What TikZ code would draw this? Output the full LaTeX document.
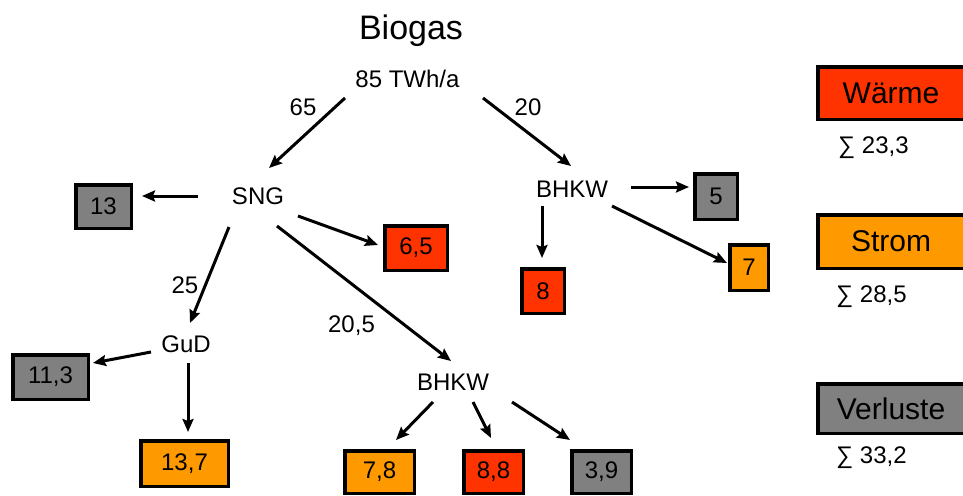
\documentclass[tikz,border=0pt]{standalone}
\usepackage{fontspec}
\setmainfont{Liberation Sans}
\usetikzlibrary{arrows.meta,calc}

\definecolor{waerme}{HTML}{FF3300}
\definecolor{strom}{HTML}{FF9900}
\definecolor{verlust}{HTML}{808080}

\tikzset{
  lbl/.style={font=\fontsize{24}{28}\selectfont, anchor=base, inner sep=0pt},
  flow/.style={line width=3pt, -{Stealth[length=13pt,width=11pt,inset=2pt]}},
  valbox/.style={draw=black, line width=3.5pt, inner sep=0pt,
    font=\fontsize{24}{28}\selectfont},
  legbox/.style={draw=black, line width=3.5pt, inner sep=0pt,
    minimum width=146.5pt, font=\fontsize{30}{34}\selectfont},
  sumlbl/.style={font=\fontsize{24}{28}\selectfont, anchor=base west, inner sep=0pt},
}

\begin{document}
\begin{tikzpicture}[x=1pt,y=-1pt]
\useasboundingbox (0,0) rectangle (963,495);
\clip (0,0) rectangle (963,495);

% title and source
\node[lbl, font=\fontsize{34}{40}\selectfont] (title) at (411,40) {Biogas};
\node[lbl] (top) at (407.5,87) {85 TWh/a};

% conversion stages
\node[lbl] (sng) at (258,204) {SNG};
\node[lbl] (bhkwT) at (572,197) {BHKW};
\node[lbl] (gud) at (186,352) {GuD};
\node[lbl] (bhkwB) at (453,390) {BHKW};

% flow amounts
\node[lbl] (f65) at (303,115) {65};
\node[lbl] (f20) at (528,115) {20};
\node[lbl] (f25) at (185,293) {25};
\node[lbl] (f205) at (351.5,332) {20,5};

% outputs
\node[valbox, fill=verlust, minimum width=55.5pt, minimum height=43.5pt] (b13) at (103.5,206.5) {13};
\node[valbox, fill=waerme,  minimum width=62.5pt, minimum height=44.5pt] (b65) at (416,248) {6,5};
\node[valbox, fill=verlust, minimum width=42.5pt, minimum height=45.5pt] (b5) at (716,196.5) {5};
\node[valbox, fill=strom,   minimum width=38.5pt, minimum height=45.5pt] (b7) at (749,267.5) {7};
\node[valbox, fill=waerme,  minimum width=42.5pt, minimum height=44.5pt] (b8) at (543,291) {8};
\node[valbox, fill=verlust, minimum width=75.5pt, minimum height=44.5pt] (b113) at (50.5,377) {11,3};
\node[valbox, fill=strom,   minimum width=87.5pt, minimum height=45.5pt] (b137) at (184.5,463.5) {13,7};
\node[valbox, fill=strom,   minimum width=69.5pt, minimum height=42.5pt] (b78) at (379.5,472) {7,8};
\node[valbox, fill=waerme,  minimum width=59.5pt, minimum height=42.5pt] (b88) at (493.5,472) {8,8};
\node[valbox, fill=verlust, minimum width=59.5pt, minimum height=42.5pt] (b39) at (601.5,472) {3,9};

% flows
\draw[flow] ($(top.base)+(-62.5,11)$) -- ($(sng.base)+(11,-36)$);
\draw[flow] ($(top.base)+(75.5,11)$) -- ($(bhkwT.base)+(-1,-31)$);
\draw[flow] ($(sng.base)+(-60,-8)$) -- ($(b13)+(38.5,-10.5)$);
\draw[flow] ($(sng.base)+(40,12)$) -- ($(b65)+(-38,-3)$);
\draw[flow] ($(sng.base)+(-29,23)$) -- ($(gud.base)+(4,-29)$);
\draw[flow] ($(sng.base)+(19,22)$) -- ($(bhkwB.base)+(-2,-29)$);
\draw[flow] ($(bhkwT.base)+(59,-10)$) -- ($(b5)+(-27,-9.5)$);
\draw[flow] ($(bhkwT.base)+(-30,9)$) -- ($(b8)+(-1,-33)$);
\draw[flow] ($(bhkwT.base)+(40,9)$) -- ($(b7)+(-22,-4.5)$);
\draw[flow] ($(gud.base)+(-35,0)$) -- ($(b113)+(42.5,-14)$);
\draw[flow] ($(gud.base)+(2,11)$) -- ($(b137)+(3.5,-31.5)$);
\draw[flow] ($(bhkwB.base)+(-20,12)$) -- ($(b78)+(16.5,-32)$);
\draw[flow] ($(bhkwB.base)+(20,12)$) -- ($(b88)+(-2.5,-34)$);
\draw[flow] ($(bhkwB.base)+(59,12)$) -- ($(b39)+(-31.5,-32)$);

% legend
\node[legbox, fill=waerme,  minimum height=52.5pt] (lw) at (891,93) {Wärme};
\node[legbox, fill=strom,   minimum height=53.5pt] (ls) at (891,241.5) {Strom};
\node[legbox, fill=verlust, minimum height=49.5pt] (lv) at (891,408.5) {Verluste};
\node[sumlbl] (sw) at (838,153) {∑ 23,3};
\node[sumlbl] (ss) at (836,302) {∑ 28,5};
\node[sumlbl] (sv) at (836,463) {∑ 33,2};
\end{tikzpicture}
\end{document}
